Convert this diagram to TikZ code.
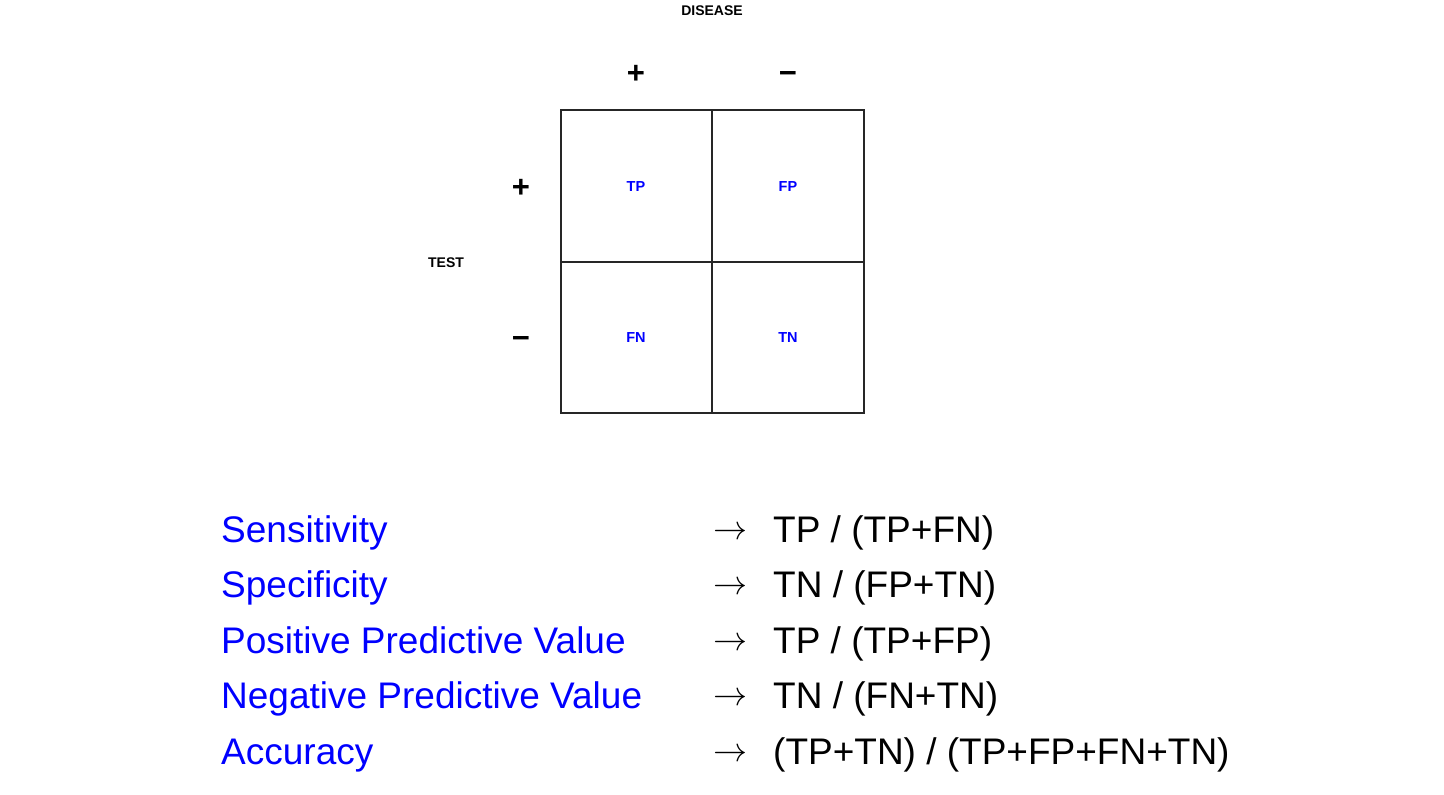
\documentclass[tikz,border=0pt]{standalone}
\usepackage{fix-cm}
\usepackage{fontspec}
\setmainfont{Liberation Sans}
\begin{document}
\begin{tikzpicture}[x=1pt,y=-1pt,
  axislabel/.style={font=\fontsize{14}{16}\selectfont\bfseries, text=black, inner sep=0pt},
  sign/.style={font=\fontsize{31}{34}\selectfont\bfseries, inner sep=0pt, anchor=base},
  cell/.style={font=\fontsize{14.5}{16}\selectfont\bfseries, text=blue, inner sep=0pt},
  measure/.style={font=\fontsize{37}{40}\selectfont, text=blue, anchor=base west, inner sep=0pt},
  formula/.style={font=\fontsize{37}{40}\selectfont, text=black, anchor=base west, inner sep=0pt},
  implies/.style={font=\fontsize{34}{38}\selectfont, inner sep=0pt, anchor=base west},
  grid/.style={draw=black!85, line width=1.2pt}]
\useasboundingbox (0,0) rectangle (1444,795);

% 2x2 table
\draw[grid] (561,110) rectangle (864,413);
\draw[grid] (712,110) -- (712,413);
\draw[grid] (561,262) -- (864,262);

% axis titles
\node[axislabel] (disease) at (712,11) {DISEASE};
\node[axislabel] (test) at (446,263) {TEST};

% column and row signs
\node[sign] (dpos) at (636,83) {+};
\node[sign] (dneg) at (788,83) {−};
\node[sign] (tpos) at (521,197) {+};
\node[sign] (tneg) at (521,348) {−};

% cell contents
\node[cell] (tp) at (636,186.5) {TP};
\node[cell] (fp) at (788,186.5) {FP};
\node[cell] (fn) at (636,337.5) {FN};
\node[cell] (tn) at (788,337.5) {TN};

% measures and their formulas
\node[measure] (sens) at (221,542) {Sensitivity};
\node[measure] (spec) at (221,597.5) {Specificity};
\node[measure] (ppv) at (221,653) {Positive Predictive Value};
\node[measure] (npv) at (221,708.5) {Negative Predictive Value};
\node[measure] (acc) at (221,764) {Accuracy};

\node[implies] (a1) at (713,539) {$\rightarrow$};
\node[implies] (a2) at (713,594.5) {$\rightarrow$};
\node[implies] (a3) at (713,650) {$\rightarrow$};
\node[implies] (a4) at (713,705.5) {$\rightarrow$};
\node[implies] (a5) at (713,761) {$\rightarrow$};

\node[formula] (f1) at (773,542) {TP / (TP+FN)};
\node[formula] (f2) at (773,597.5) {TN / (FP+TN)};
\node[formula] (f3) at (773,653) {TP / (TP+FP)};
\node[formula] (f4) at (773,708.5) {TN / (FN+TN)};
\node[formula] (f5) at (773,764) {(TP+TN) / (TP+FP+FN+TN)};
\end{tikzpicture}
\end{document}
